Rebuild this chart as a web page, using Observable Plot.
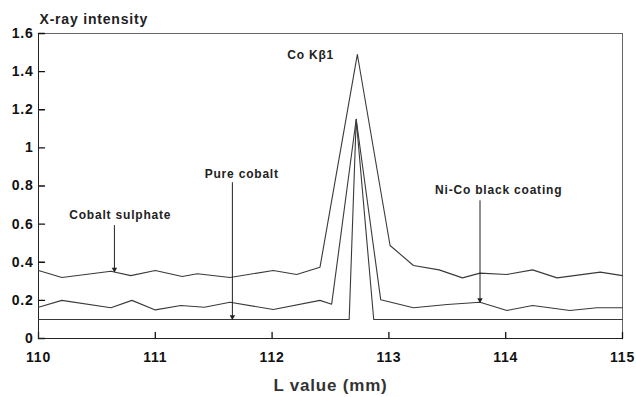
<!DOCTYPE html>
<html>
<head>
<meta charset="utf-8">
<script src="https://cdn.jsdelivr.net/npm/d3@7"></script>
<script src="https://cdn.jsdelivr.net/npm/@observablehq/plot@0.6"></script>
<style>
  html, body { margin: 0; padding: 0; background: #fff; }
  svg { font-family: "Liberation Sans", Arial, sans-serif; }
</style>
</head>
<body>
<div id="chart"></div>
<script>
// L value (mm) and X-ray intensity
const sulphateX = [110.00, 110.20, 110.62, 110.79, 111.00, 111.23, 111.36, 111.64, 112.01, 112.21, 112.41, 112.73, 113.01, 113.21, 113.43, 113.63, 113.78, 114.01, 114.23, 114.44, 114.81, 115.00];
const sulphateY = [0.357, 0.32, 0.353, 0.33, 0.357, 0.325, 0.34, 0.32, 0.357, 0.336, 0.374, 1.49, 0.488, 0.383, 0.36, 0.318, 0.343, 0.336, 0.36, 0.318, 0.348, 0.33];

const nicoX = [110.00, 110.20, 110.62, 110.80, 111.00, 111.22, 111.42, 111.64, 112.01, 112.41, 112.51, 112.72, 112.93, 113.21, 113.50, 113.78, 114.01, 114.23, 114.55, 114.78, 115.00];
const nicoY = [0.164, 0.2, 0.161, 0.2, 0.15, 0.173, 0.164, 0.19, 0.152, 0.2, 0.18, 1.15, 0.203, 0.161, 0.178, 0.19, 0.147, 0.173, 0.147, 0.161, 0.161];

const pureX = [110.00, 112.66, 112.72, 112.87, 115.00];
const pureY = [0.1, 0.1, 1.15, 0.1, 0.1];

const xTicks = [110, 111, 112, 113, 114, 115];
const yTicks = [0, 0.2, 0.4, 0.6, 0.8, 1, 1.2, 1.4, 1.6];

const labels = ["Co Kβ1", "Pure cobalt", "Cobalt sulphate", "Ni-Co black coating"];
const labelX = [112.33, 111.74, 110.70, 113.94];
const labelY = [1.485, 0.86, 0.645, 0.776];

const arrowX = [111.66, 110.65, 113.78];
const arrowFrom = [0.82, 0.595, 0.725];
const arrowTo = [0.1, 0.35, 0.19];

const toRows = (xs, ys) => xs.map((x, i) => ({x, y: ys[i]}));
const series = [toRows(sulphateX, sulphateY), toRows(nicoX, nicoY), toRows(pureX, pureY)];
const labelRows = labels.map((t, i) => ({t, x: labelX[i], y: labelY[i]}));
const arrowRows = arrowX.map((x, i) => ({x, y1: arrowFrom[i], y2: arrowTo[i]}));

const fmt = d => String(+d.toFixed(1));
const TICK = 6;

const chart = Plot.plot({
  width: 636,
  height: 397,
  marginLeft: 38,
  marginRight: 14,
  marginTop: 33,
  marginBottom: 59,
  x: {domain: [110, 115]},
  y: {domain: [0, 1.6]},
  style: {fontFamily: "'Liberation Sans', Arial, sans-serif", background: "#fff", color: "#111"},
  marks: [
    Plot.frame({stroke: "#666", strokeWidth: 1}),
    Plot.axisX({ticks: xTicks, tickFormat: fmt, tickSize: 0, tickPadding: 14, label: null,
      fontSize: 14, fontWeight: "bold"}),
    Plot.axisY({ticks: yTicks, tickFormat: fmt, tickSize: 0, tickPadding: 5, label: null,
      fontSize: 14, fontWeight: "bold"}),
    // inward ticks as short pixel-length vectors anchored on the axes
    Plot.vector(xTicks, {x: d => d, y: () => 0, length: TICK, rotate: 0, anchor: "start", stroke: "#111", strokeWidth: 1.3,
      shape: {draw(ctx, l) { ctx.moveTo(0, 0); ctx.lineTo(0, -l); }}}),
    Plot.vector(yTicks, {x: () => 110, y: d => d, length: TICK, rotate: 90, anchor: "start", stroke: "#111", strokeWidth: 1.3,
      shape: {draw(ctx, l) { ctx.moveTo(0, 0); ctx.lineTo(0, -l); }}}),
    Plot.ruleX([110], {stroke: "#222"}),
    Plot.ruleY([0], {stroke: "#222"}),
    ...series.map(s => Plot.line(s, {x: "x", y: "y", stroke: "#3a3a3a", strokeWidth: 1.1})),
    Plot.link(arrowRows, {x1: "x", x2: "x", y1: "y1", y2: "y2", stroke: "#222", strokeWidth: 1}),
    Plot.dot(arrowRows, {x: "x", y: "y2", symbol: "triangle2", rotate: 180, r: 2.6, dy: -2.5, fill: "#222", stroke: "none"}),
    Plot.text(labelRows, {x: "x", y: "y", text: "t", fontSize: 12, fontWeight: "bold", fill: "#222"}),
    Plot.text(["X-ray intensity"], {frameAnchor: "top-left", textAnchor: "start", lineAnchor: "bottom", dy: -10, dx: 1,
      fontSize: 14, fontWeight: "bold", fill: "#222"}),
    Plot.text(["L value (mm)"], {frameAnchor: "bottom", lineAnchor: "middle", dy: 47,
      fontSize: 17, fontWeight: "bold", fill: "#333"})
  ]
});
chart.querySelectorAll("text").forEach(t => t.setAttribute("letter-spacing", "0.8"));
document.getElementById("chart").appendChild(chart);
</script>
</body>
</html>
